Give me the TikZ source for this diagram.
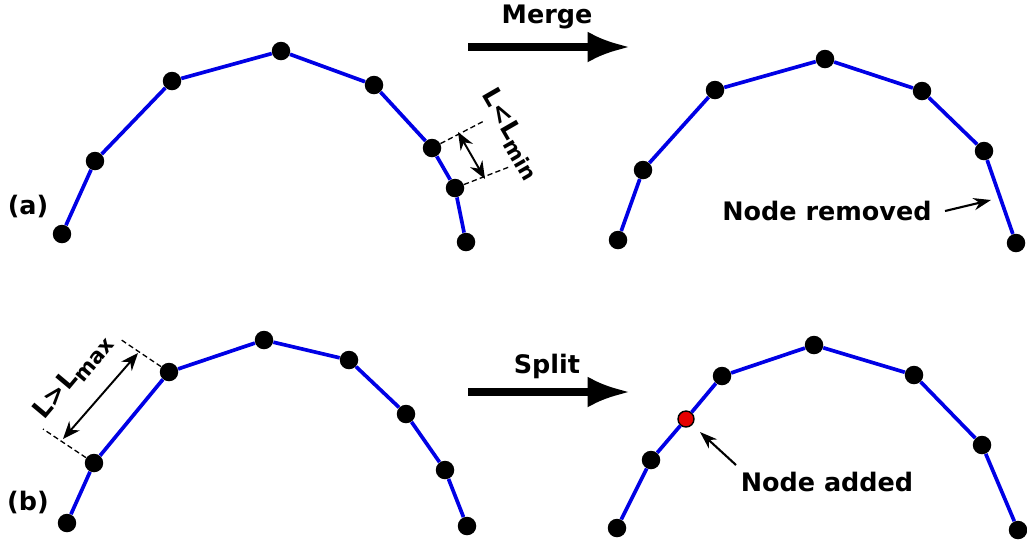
\documentclass[tikz,border=0pt]{standalone}
\usepackage{fontspec}
\setmainfont{DejaVu Sans}
\usetikzlibrary{arrows.meta,calc,positioning}

\begin{document}
\begin{tikzpicture}[
        x=0.02cm, y=-0.02cm,
        every node/.style={font=\bfseries\fontsize{14.5}{16}\selectfont},
        pt/.style={circle,fill=black,inner sep=0pt,minimum size=0.37cm},
        newpt/.style={circle,fill=red!90!black,draw=black,thick,inner sep=0pt,minimum size=0.32cm},
        chain/.style={blue!90!black,line width=2.1pt},
        big/.style={-{Latex[length=0.85cm,width=0.62cm]},line width=4.2pt},
        dim/.style={dash pattern=on 3pt off 1.8pt,line width=0.75pt},
        dimarrow/.style={{Stealth[length=10pt,width=8pt]}-{Stealth[length=10pt,width=8pt]},line width=1.1pt},
        ptr/.style={-{Stealth[length=10pt,width=7pt]},line width=1.2pt},
        ]
      \useasboundingbox (0,0) rectangle (1027,539);

      % (a) before merge
      \node [pt] (a1) at (62,234) {};
      \node [pt] (a2) at (95,161) {};
      \node [pt] (a3) at (172,81) {};
      \node [pt] (a4) at (281,51) {};
      \node [pt] (a5) at (374,85) {};
      \node [pt] (a6) at (432,148) {};
      \node [pt] (a7) at (455,188) {};
      \node [pt] (a8) at (466,242) {};
      % (a) after merge
      \node [pt] (m1) at (618,240) {};
      \node [pt] (m2) at (643,170) {};
      \node [pt] (m3) at (715,90) {};
      \node [pt] (m4) at (825,59) {};
      \node [pt] (m5) at (922,91) {};
      \node [pt] (m6) at (984,151) {};
      \node [pt] (m7) at (1016,243) {};
      % (b) before split
      \node [pt] (b1) at (67,523) {};
      \node [pt] (b2) at (94,463) {};
      \node [pt] (b3) at (169,372) {};
      \node [pt] (b4) at (264,340) {};
      \node [pt] (b5) at (349,360) {};
      \node [pt] (b6) at (406,414) {};
      \node [pt] (b7) at (445,470) {};
      \node [pt] (b8) at (467,526) {};
      % (b) after split
      \node [pt] (s1) at (617,528) {};
      \node [pt] (s2) at (651,460) {};
      \node [newpt] (snew) at (686,419) {};
      \node [pt] (s3) at (722,376) {};
      \node [pt] (s4) at (814,345) {};
      \node [pt] (s5) at (914,375) {};
      \node [pt] (s6) at (982,445) {};
      \node [pt] (s7) at (1018,530) {};

      \draw[chain] (a1) -- (a2) -- (a3) -- (a4) -- (a5) -- (a6) -- (a7) -- (a8);
      \draw[chain] (m1) -- (m2) -- (m3) -- (m4) -- (m5) -- (m6) -- (m7);
      \draw[chain] (b1) -- (b2) -- (b3) -- (b4) -- (b5) -- (b6) -- (b7) -- (b8);
      \draw[chain] (s1) -- (s2) -- (snew) -- (s3) -- (s4) -- (s5) -- (s6) -- (s7);

      % labels
      \node (lbl-a) at (28,207) {(a)};
      \node (lbl-b) at (28,502) {(b)};

      % big arrows
      \coordinate (merge-start) at (468,47);
      \coordinate (merge-end) at (630,47);
      \draw[big] (merge-start) -- (merge-end);
      \node (merge) at (547,17) {Merge};
      \coordinate (split-start) at (468,392);
      \coordinate (split-end) at (630,392);
      \draw[big] (split-start) -- (split-end);
      \node (split) at (547,366) {Split};

      % L < Lmin
      \coordinate (dmin1) at (484,121);
      \coordinate (dmin2) at (509,167);
      \coordinate (amin1) at (458,132);
      \coordinate (amin2) at (485,179);
      \draw[dim] (a6) -- (dmin1);
      \draw[dim] (a7) -- (dmin2);
      \draw[dimarrow] (amin1) -- (amin2);
      \node [rotate=-60] (lmin) at (511,134) {L<L\raisebox{-0.45ex}{\fontsize{12}{12}\selectfont min}};

      % L > Lmax
      \coordinate (dmax1) at (120,339);
      \coordinate (dmax2) at (43,429);
      \coordinate (amax1) at (138,353);
      \coordinate (amax2) at (63,439);
      \draw[dim] (b3) -- (dmax1);
      \draw[dim] (b2) -- (dmax2);
      \draw[dimarrow] (amax1) -- (amax2);
      \node [rotate=50] (lmax) at (73,377) {L>L\raisebox{-0.45ex}{\fontsize{12}{12}\selectfont max}};

      % annotations
      \node (removed) at (827,211) {Node removed};
      \coordinate (removed-tail) at (945,211);
      \coordinate (removed-tip) at (991,200);
      \draw[ptr] (removed-tail) -- (removed-tip);
      \node (added) at (827,482) {Node added};
      \coordinate (added-tail) at (736,465);
      \coordinate (added-tip) at (700,432);
      \draw[ptr] (added-tail) -- (added-tip);
\end{tikzpicture}
\end{document}
